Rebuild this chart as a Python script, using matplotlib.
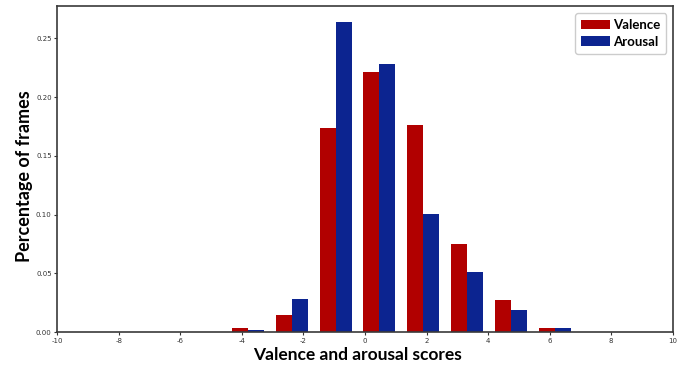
import numpy as np
import matplotlib
matplotlib.use('Agg')
import matplotlib.pyplot as plt

# 14 histogram bins between -10 and 10
bin_edges = np.linspace(-10, 10, 15)

valence = [0.0, 0.0, 0.0, 0.0005, 0.0037, 0.0147, 0.1737, 0.2213,
           0.1763, 0.0751, 0.0275, 0.0037, 0.0005, 0.0]
arousal = [0.0, 0.0, 0.0, 0.0003, 0.0020, 0.0283, 0.2639, 0.2281,
           0.1006, 0.0513, 0.0190, 0.0037, 0.0004, 0.0]

x_ticks = [-10, -8, -6, -4, -2, 0, 2, 4, 6, 8, 10]
y_ticks = [0.0, 0.05, 0.10, 0.15, 0.20, 0.25]

RED = '#b10000'
BLUE = '#0c2490'
LABEL_FONT = ['Lato', 'DejaVu Sans']

fig = plt.figure(figsize=(6.9, 3.69), dpi=100)
ax = fig.add_axes([0.083, 0.0995, 0.892, 0.883])

left = bin_edges[:-1]
bar_w = 0.52
ax.bar(left - 0.05, valence, width=bar_w, align='edge', color=RED, label='Valence')
ax.bar(left - 0.05 + bar_w, arousal, width=bar_w, align='edge', color=BLUE, label='Arousal')

ax.set_xlim(-10, 10)
ax.set_ylim(0, 0.277)
ax.set_xticks(x_ticks)
ax.set_xticklabels([str(t) for t in x_ticks])
ax.set_yticks(y_ticks)
ax.set_yticklabels([f'{t:.2f}' for t in y_ticks])
ax.tick_params(labelsize=5, colors='#333333', length=2.5, width=0.8, pad=1.5)

for s in ax.spines.values():
    s.set_color('#3a3a3a')
    s.set_linewidth(1.2)

ax.set_xlabel('Valence and arousal scores', fontsize=12.5, fontweight='bold',
              family=LABEL_FONT)
ax.xaxis.set_label_coords(0.488, -0.045, transform=ax.transAxes)
ax.xaxis.label.set_va('top')
ax.set_ylabel('Percentage of frames', fontsize=13, fontweight='bold',
              family=LABEL_FONT)
ax.yaxis.set_label_coords(-0.039, 0.48, transform=ax.transAxes)

leg = ax.legend(loc='upper right', prop={'family': LABEL_FONT, 'weight': 'bold', 'size': 9.5},
                handlelength=2.2, handleheight=0.75, handletextpad=0.2,
                labelspacing=0.35, borderpad=0.45, fancybox=True, framealpha=1)
leg.get_frame().set_edgecolor('#cccccc')

fig.savefig('out.png', dpi=100)
